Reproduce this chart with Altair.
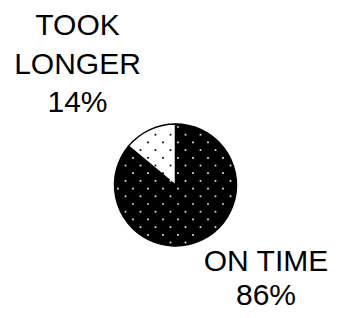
import altair as alt
import pandas as pd

# ---- data ----
categories = ["ON TIME", "TOOK LONGER"]
shares = [86, 14]
fills = ["black", "white"]
label_on_time = "ON TIME\n86%"
label_longer = "TOOK\nLONGER\n14%"

# ---- layout (chart pixel coordinates; page has 8px margin) ----
W, H = 322, 302
CX, CY, R = 167.5, 177, 61

df = pd.DataFrame({"cat": categories, "share": shares, "fill": fills,
                   "order": [0, 1]})

pie = alt.Chart(df).mark_arc(stroke="black", strokeWidth=1.5, radius=R).encode(
    theta=alt.Theta("share:Q", stack=True),
    order=alt.Order("order:Q"),
    color=alt.Color("fill:N", scale=None),
    x=alt.value(CX), y=alt.value(CY),
)

frac = shares[0] / sum(shares)
xs = alt.Scale(domain=[0, W], nice=False, zero=False)
ys = alt.Scale(domain=[0, H], nice=False, zero=False, reverse=True)

# dotted texture over the slices
dots = alt.Chart(alt.sequence(0, 20 * 12, as_="n")).transform_calculate(
    row="floor(datum.n / 12) - 1",
    col="(datum.n % 12) - 6",
).transform_calculate(
    py="119 + datum.row * 7.7",
    px="170 + datum.col * 15 + (datum.row % 2 != 0 ? 7.5 : 0)",
).transform_calculate(
    dx=f"datum.px - {CX}",
    dy=f"datum.py - {CY}",
).transform_calculate(
    ang="(atan2(datum.dx, -datum.dy) + 2*PI) % (2*PI)",
    rr="sqrt(datum.dx*datum.dx + datum.dy*datum.dy)",
).transform_filter(
    f"datum.rr < {R} - 2.5"
).transform_calculate(
    c=f"datum.ang < {frac} * 2 * PI ? '#e6e6e6' : 'black'"
).mark_square(size=3, opacity=1).encode(
    x=alt.X("px:Q", scale=xs, axis=None),
    y=alt.Y("py:Q", scale=ys, axis=None),
    color=alt.Color("c:N", scale=None),
)

lab1 = alt.Chart(pd.DataFrame({"t": [label_longer], "lx": [69.5], "ly": [27]})).mark_text(
    font="Liberation Sans", fontSize=30, align="center", baseline="alphabetic",
    lineBreak="\n", lineHeight=38.5, color="black"
).encode(
    x=alt.X("lx:Q", scale=xs, axis=None),
    y=alt.Y("ly:Q", scale=ys, axis=None),
    text="t:N",
)

lab2 = alt.Chart(pd.DataFrame({"t": [label_on_time], "lx": [258], "ly": [263]})).mark_text(
    font="Liberation Sans", fontSize=30, align="center", baseline="alphabetic",
    lineBreak="\n", lineHeight=34, color="black"
).encode(
    x=alt.X("lx:Q", scale=xs, axis=None),
    y=alt.Y("ly:Q", scale=ys, axis=None),
    text="t:N",
)

chart = alt.layer(pie, dots, lab1, lab2).properties(
    width=W, height=H, autosize=alt.AutoSizeParams(type="none"), padding=0
).configure_view(stroke=None)

chart.save("out.html", embed_options={"renderer": "svg", "actions": False})
